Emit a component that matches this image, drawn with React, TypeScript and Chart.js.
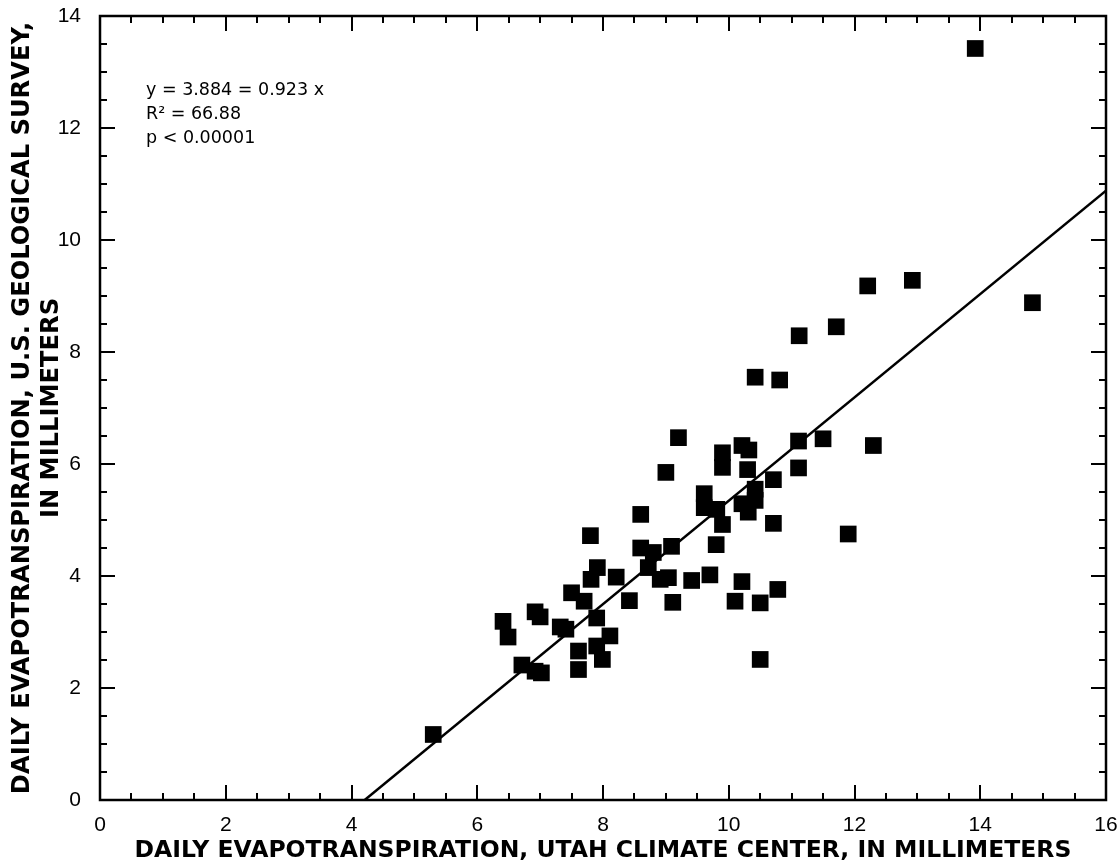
import React, { useEffect, useRef } from "react";
import { Chart, registerables } from "chart.js";

Chart.register(...registerables);

// Daily ET, Utah Climate Center (x, mm)
const utahCenterET = [
  5.3, 6.41, 6.49, 6.92, 7.0, 7.32, 7.41, 6.71, 6.92, 7.02, 7.61, 7.61, 7.9, 8.11, 7.99,
  7.5, 7.7, 7.9, 7.81, 7.91, 8.21, 8.42, 7.8, 8.6, 8.6, 8.8, 9.09, 8.72, 8.91, 9.04,
  9.41, 9.11, 9.7, 9.2, 9.0, 9.9, 9.9, 10.21, 10.32, 10.3, 10.71, 11.11, 11.5, 12.3, 11.11,
  9.61, 9.61, 9.81, 10.42, 10.42, 10.21, 10.31, 9.9, 10.71, 9.8, 11.9, 10.21, 10.78, 10.1,
  10.5, 10.5, 10.42, 10.81, 11.12, 11.71, 12.21, 12.92, 13.92, 14.83,
];

// Daily ET, U.S. Geological Survey (y, mm)
const usgsET = [
  1.17, 3.19, 2.91, 3.36, 3.27, 3.09, 3.05, 2.41, 2.3, 2.27, 2.66, 2.33, 2.75, 2.93, 2.51,
  3.7, 3.55, 3.25, 3.94, 4.15, 3.98, 3.56, 4.72, 5.1, 4.5, 4.42, 4.53, 4.15, 3.94, 3.97,
  3.92, 3.53, 4.02, 6.47, 5.85, 6.2, 5.94, 6.33, 6.25, 5.9, 5.72, 6.41, 6.45, 6.33, 5.93,
  5.47, 5.22, 5.19, 5.55, 5.35, 5.29, 5.14, 4.92, 4.94, 4.56, 4.75, 3.9, 3.76, 3.55,
  3.52, 2.51, 7.55, 7.5, 8.29, 8.45, 9.18, 9.28, 13.42, 8.88,
];

// Regression line end points
const regLineX = [4.21, 16];
const regLineY = [0, 10.88];

// Labeled tick values
const xTickLabels = [0, 2, 4, 6, 8, 10, 12, 14, 16];
const yTickLabels = [0, 2, 4, 6, 8, 10, 12, 14];

const annotationLines = ["y = 3.884 = 0.923 x", "R\u00B2 = 66.88", "p < 0.00001"];

const xTitle = "DAILY EVAPOTRANSPIRATION, UTAH CLIMATE CENTER, IN MILLIMETERS";
const yTitle = ["DAILY EVAPOTRANSPIRATION, U.S. GEOLOGICAL SURVEY,", "IN MILLIMETERS"];

const isMajor = (v: number) => Math.abs(v / 2 - Math.round(v / 2)) < 1e-9;

const frameAndTicks = {
  id: "frameAndTicks",
  afterDraw(chart: any) {
    const { ctx, chartArea: a, scales } = chart;
    const xs = scales.x;
    const ys = scales.y;
    ctx.save();
    ctx.strokeStyle = "#000";
    ctx.lineWidth = 2;
    ctx.beginPath();
    xs.ticks.forEach((t: any) => {
      const p = Math.round(xs.getPixelForValue(t.value));
      const len = isMajor(t.value) ? 15 : 7;
      ctx.moveTo(p, a.bottom);
      ctx.lineTo(p, a.bottom - len);
      ctx.moveTo(p, a.top);
      ctx.lineTo(p, a.top + len);
    });
    ys.ticks.forEach((t: any) => {
      const p = Math.round(ys.getPixelForValue(t.value));
      const len = isMajor(t.value) ? 15 : 7;
      ctx.moveTo(a.left, p);
      ctx.lineTo(a.left + len, p);
      ctx.moveTo(a.right, p);
      ctx.lineTo(a.right - len, p);
    });
    ctx.stroke();
    ctx.lineWidth = 2.5;
    ctx.strokeRect(a.left, a.top, a.right - a.left, a.bottom - a.top);

    ctx.fillStyle = "#000";
    ctx.font = '17.5px "DejaVu Sans"';
    ctx.textAlign = "left";
    ctx.textBaseline = "alphabetic";
    annotationLines.forEach((s, i) => {
      ctx.fillText(s, a.left + 46, a.top + 79 + i * 24);
    });
    ctx.restore();
  },
};

export default function App() {
  const canvasRef = useRef<HTMLCanvasElement | null>(null);

  useEffect(() => {
    if (!canvasRef.current) return;
    const chart = new Chart(canvasRef.current, {
      type: "scatter",
      data: {
        datasets: [
          {
            data: utahCenterET.map((x, i) => ({ x, y: usgsET[i] })),
            pointStyle: "rect",
            pointRadius: 11.8,
            pointHoverRadius: 11.8,
            backgroundColor: "#000",
            borderColor: "#000",
            borderWidth: 0,
          },
          {
            data: regLineX.map((x, i) => ({ x, y: regLineY[i] })),
            showLine: true,
            borderColor: "#000",
            borderWidth: 2.5,
            pointRadius: 0,
            pointHoverRadius: 0,
            fill: false,
          } as any,
        ],
      },
      options: {
        animation: false,
        responsive: true,
        maintainAspectRatio: false,
        events: [],
        layout: { padding: { top: 16, right: 13, left: 0, bottom: 0 } },
        plugins: {
          legend: { display: false },
          tooltip: { enabled: false },
        },
        scales: {
          x: {
            type: "linear",
            position: "bottom",
            min: 0,
            max: 16,
            grid: { display: false },
            border: { display: false },
            ticks: {
              stepSize: 0.5,
              autoSkip: false,
              maxRotation: 0,
              padding: 5,
              color: "#000",
              font: { family: "Liberation Sans", size: 21 },
              callback: (v: any) => (xTickLabels.includes(Number(v)) ? String(v) : ""),
            },
            title: {
              display: true,
              text: xTitle,
              color: "#000",
              font: { family: "DejaVu Sans", weight: "bold", size: 23.5, lineHeight: 1.2 },
              padding: { top: 0, bottom: 2 },
            },
            afterFit: (s: any) => {
              s.height = 67;
              s.paddingLeft = 0;
              s.paddingRight = 0;
            },
          },
          y: {
            type: "linear",
            position: "left",
            min: 0,
            max: 14,
            grid: { display: false },
            border: { display: false },
            ticks: {
              stepSize: 0.5,
              autoSkip: false,
              padding: 11,
              color: "#000",
              font: { family: "Liberation Sans", size: 21 },
              callback: (v: any) => (yTickLabels.includes(Number(v)) ? String(v) : ""),
            },
            title: {
              display: true,
              text: yTitle,
              color: "#000",
              font: { family: "DejaVu Sans", weight: "bold", size: 24.2, lineHeight: 1.2 },
              padding: { top: 8, bottom: 0 },
            },
            afterFit: (s: any) => {
              s.width = 100;
              s.paddingTop = 0;
              s.paddingBottom = 0;
            },
          },
        },
      },
      plugins: [frameAndTicks],
    });
    return () => chart.destroy();
  }, []);

  return (
    <div
      style={{
        position: "fixed",
        left: 0,
        top: 0,
        width: 1119,
        height: 867,
        background: "#fff",
      }}
    >
      <canvas ref={canvasRef} />
    </div>
  );
}
